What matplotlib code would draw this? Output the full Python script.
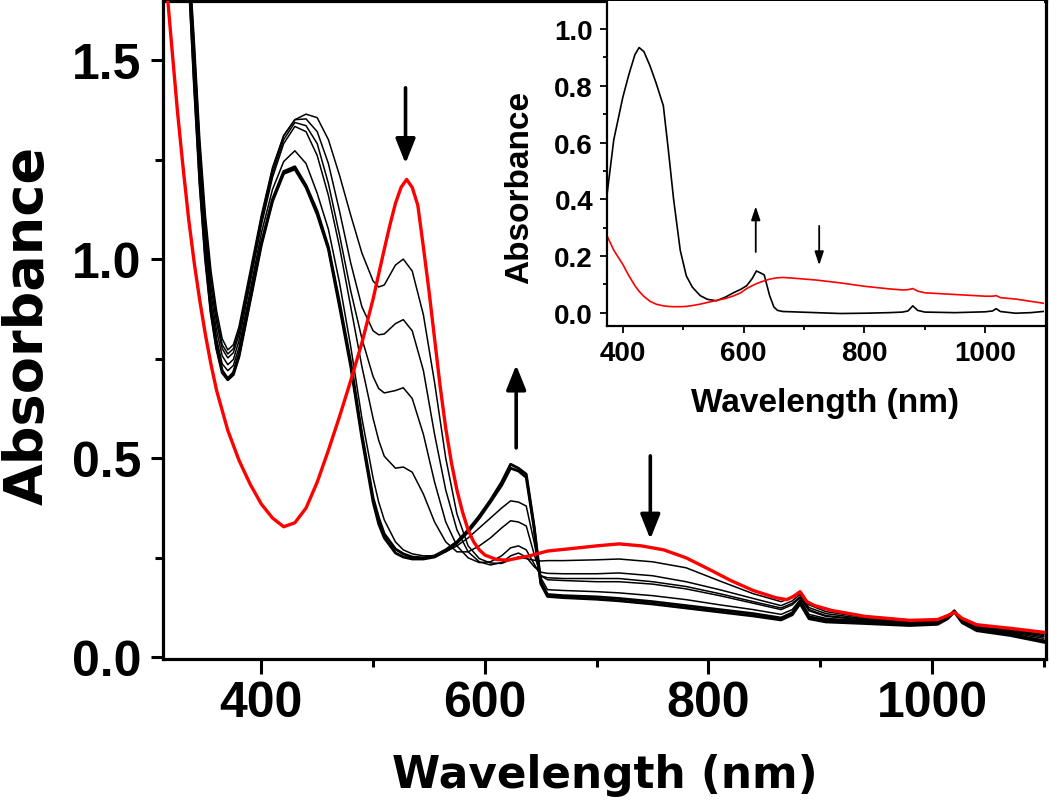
import matplotlib
matplotlib.use("Agg")
import matplotlib.pyplot as plt
from matplotlib.ticker import MultipleLocator

plt.rcParams["font.family"] = ["Liberation Sans", "DejaVu Sans"]
plt.rcParams["font.weight"] = "bold"

# main panel: wavelength grid (nm) and absorbance of each black spectrum
wl = [312, 320, 330, 340, 345, 350, 355, 360, 365, 370, 375, 380, 390, 400, 410,
      420, 430, 440, 450, 460, 470, 480, 490, 500, 505, 510, 520, 527, 535, 545,
      555, 565, 575, 585, 595, 605, 615, 623, 630, 637, 644, 650, 656, 670, 700,
      720, 750, 780, 810, 840, 865, 875, 882, 890, 905, 940, 980, 1005, 1014, 1020,
      1027, 1040, 1070, 1100]

b1 = [3.0, 2.6, 2.0, 1.55, 1.30, 1.11, 0.97, 0.87, 0.80, 0.772, 0.785, 0.83, 0.97, 1.11, 1.23,
      1.31, 1.35, 1.364, 1.355, 1.30, 1.21, 1.11, 1.015, 0.945, 0.93, 0.935, 0.985, 1.0, 0.97, 0.86,
      0.69, 0.50, 0.36, 0.28, 0.248, 0.237, 0.236, 0.245, 0.252, 0.248, 0.244, 0.242, 0.243, 0.243, 0.245,
      0.247, 0.24, 0.225, 0.192, 0.16, 0.14, 0.15, 0.162, 0.132, 0.115, 0.100, 0.092, 0.095, 0.105, 0.115,
      0.098, 0.08, 0.07, 0.062]

b2 = [3.0, 2.6, 2.0, 1.53, 1.28, 1.09, 0.95, 0.855, 0.785, 0.762, 0.775, 0.82, 0.96, 1.105, 1.225,
      1.31, 1.35, 1.352, 1.32, 1.24, 1.12, 0.99, 0.88, 0.82, 0.81, 0.812, 0.838, 0.848, 0.82, 0.72,
      0.56, 0.42, 0.32, 0.265, 0.24, 0.232, 0.238, 0.255, 0.262, 0.252, 0.228, 0.214, 0.211, 0.21, 0.21,
      0.212, 0.205, 0.19, 0.17, 0.148, 0.13, 0.142, 0.158, 0.125, 0.11, 0.097, 0.09, 0.093, 0.103, 0.115,
      0.096, 0.078, 0.068, 0.058]

b3 = [3.0, 2.6, 2.0, 1.51, 1.26, 1.07, 0.93, 0.84, 0.775, 0.752, 0.765, 0.81, 0.95, 1.095, 1.215,
      1.30, 1.343, 1.335, 1.29, 1.19, 1.06, 0.92, 0.80, 0.705, 0.675, 0.664, 0.67, 0.677, 0.65, 0.56,
      0.44, 0.34, 0.28, 0.25, 0.238, 0.24, 0.255, 0.275, 0.28, 0.27, 0.235, 0.205, 0.2, 0.198, 0.198,
      0.198, 0.19, 0.178, 0.16, 0.14, 0.124, 0.136, 0.152, 0.12, 0.105, 0.095, 0.088, 0.091, 0.102, 0.115,
      0.095, 0.076, 0.066, 0.055]

b4 = [3.0, 2.6, 2.0, 1.49, 1.24, 1.05, 0.91, 0.82, 0.757, 0.735, 0.748, 0.795, 0.94, 1.085, 1.205,
      1.29, 1.333, 1.32, 1.26, 1.16, 1.03, 0.88, 0.73, 0.60, 0.545, 0.505, 0.475, 0.478, 0.465, 0.41,
      0.34, 0.29, 0.265, 0.265, 0.28, 0.30, 0.325, 0.343, 0.34, 0.33, 0.26, 0.205, 0.195, 0.193, 0.19,
      0.19, 0.184, 0.172, 0.155, 0.136, 0.12, 0.132, 0.15, 0.117, 0.103, 0.094, 0.087, 0.09, 0.102, 0.116,
      0.094, 0.075, 0.064, 0.052]

b5 = [3.0, 2.6, 2.0, 1.47, 1.22, 1.03, 0.89, 0.80, 0.737, 0.72, 0.733, 0.778, 0.92, 1.065, 1.175,
      1.245, 1.272, 1.24, 1.165, 1.075, 0.94, 0.78, 0.60, 0.45, 0.39, 0.345, 0.29, 0.27, 0.26, 0.255,
      0.255, 0.265, 0.28, 0.30, 0.325, 0.35, 0.375, 0.393, 0.39, 0.38, 0.29, 0.2, 0.17, 0.168, 0.165,
      0.162, 0.155, 0.145, 0.132, 0.12, 0.108, 0.12, 0.145, 0.108, 0.098, 0.092, 0.086, 0.089, 0.103, 0.118,
      0.093, 0.073, 0.062, 0.048]

b6 = [3.0, 2.6, 2.0, 1.45, 1.20, 1.01, 0.87, 0.78, 0.72, 0.70, 0.715, 0.76, 0.90, 1.04, 1.15,
      1.22, 1.232, 1.185, 1.12, 1.03, 0.89, 0.74, 0.56, 0.40, 0.35, 0.31, 0.272, 0.26, 0.252, 0.25,
      0.255, 0.27, 0.29, 0.32, 0.355, 0.395, 0.44, 0.485, 0.475, 0.46, 0.33, 0.19, 0.158, 0.155, 0.152,
      0.148, 0.14, 0.13, 0.12, 0.11, 0.099, 0.112, 0.14, 0.102, 0.094, 0.089, 0.084, 0.087, 0.1, 0.117,
      0.09, 0.07, 0.058, 0.042]

b7 = [3.0, 2.6, 2.0, 1.44, 1.19, 1.0, 0.865, 0.775, 0.715, 0.697, 0.71, 0.755, 0.895, 1.035, 1.145,
      1.215, 1.226, 1.18, 1.112, 1.025, 0.88, 0.73, 0.55, 0.39, 0.335, 0.30, 0.262, 0.252, 0.247, 0.247,
      0.252, 0.267, 0.287, 0.315, 0.35, 0.39, 0.432, 0.475, 0.468, 0.452, 0.325, 0.185, 0.153, 0.15, 0.146,
      0.142, 0.134, 0.124, 0.114, 0.104, 0.094, 0.107, 0.135, 0.097, 0.089, 0.085, 0.08, 0.083, 0.097, 0.114,
      0.087, 0.067, 0.055, 0.038]

# red (starting) spectrum has its own, finer grid
wl_red = [312, 316, 320, 325, 330, 335, 340, 345, 350, 355, 360, 370, 380, 390, 400,
          410, 420, 430, 440, 450, 460, 470, 480, 490, 500, 510, 515, 520, 525, 530,
          535, 540, 545, 550, 555, 560, 565, 570, 575, 580, 585, 590, 595, 600, 610,
          620, 640, 656, 680, 700, 720, 740, 760, 780, 800, 820, 840, 860, 870, 876,
          882, 888, 895, 910, 940, 980, 1005, 1014, 1020, 1027, 1040, 1070, 1100]

red = [1.80, 1.66, 1.53, 1.37, 1.23, 1.10, 0.99, 0.895, 0.81, 0.735, 0.67, 0.57, 0.495, 0.435, 0.385,
       0.35, 0.328, 0.338, 0.375, 0.44, 0.52, 0.605, 0.695, 0.79, 0.90, 1.025, 1.085, 1.14, 1.18, 1.2,
       1.18, 1.135, 1.03, 0.92, 0.80, 0.68, 0.575, 0.49, 0.42, 0.365, 0.32, 0.29, 0.27, 0.257, 0.246,
       0.244, 0.255, 0.267, 0.274, 0.28, 0.285, 0.28, 0.27, 0.25, 0.222, 0.193, 0.168, 0.15, 0.145, 0.153,
       0.165, 0.14, 0.13, 0.118, 0.103, 0.093, 0.095, 0.105, 0.113, 0.098, 0.082, 0.073, 0.063]

# inset: two spectra
wl_in = [374, 385, 400, 410, 420, 427, 435, 445, 455, 467, 475, 484, 495, 505, 515, 528,
         540, 555, 570, 583, 595, 605, 614, 621, 628, 634, 643, 650, 656, 665, 680, 720,
         760, 800, 840, 863, 872, 880, 888, 900, 950, 1000, 1012, 1018, 1025, 1050, 1075, 1100]

inset_black = [0.42, 0.61, 0.76, 0.84, 0.91, 0.935, 0.92, 0.87, 0.81, 0.73, 0.58, 0.40, 0.22, 0.13, 0.09, 0.06,
               0.047, 0.042, 0.055, 0.07, 0.082, 0.095, 0.12, 0.147, 0.14, 0.133, 0.06, 0.02, 0.008, 0.004, 0.003, 0.0,
               -0.003, -0.002, 0.0, 0.002, 0.006, 0.024, 0.008, 0.002, 0.0, 0.003, 0.006, 0.014, 0.004, -0.002, 0.0, 0.005]

inset_red = [0.27, 0.22, 0.17, 0.13, 0.095, 0.075, 0.057, 0.04, 0.03, 0.024, 0.022, 0.021, 0.021, 0.022, 0.025, 0.03,
             0.036, 0.043, 0.05, 0.059, 0.07, 0.085, 0.095, 0.102, 0.108, 0.112, 0.118, 0.121, 0.123, 0.124, 0.122, 0.115,
             0.105, 0.093, 0.084, 0.08, 0.081, 0.085, 0.076, 0.07, 0.064, 0.058, 0.058, 0.06, 0.053, 0.048, 0.04, 0.032]

fig = plt.figure(figsize=(10.5, 8.03), dpi=100)
ax = fig.add_axes([0.1552, 0.1781, 0.841, 0.8194])

for y in [b1, b2, b3, b4, b5]:
    ax.plot(wl, y, color="black", lw=1.1)
for y in [b6, b7]:
    ax.plot(wl, y, color="black", lw=2.0)
ax.plot(wl_red, red, color="#ff0000", lw=2.4, zorder=5)

ax.set_xlim(312, 1102)
ax.set_ylim(-0.004, 1.648)
ax.xaxis.set_major_locator(MultipleLocator(200))
ax.xaxis.set_minor_locator(MultipleLocator(100))
ax.yaxis.set_major_locator(MultipleLocator(0.5))
ax.yaxis.set_minor_locator(MultipleLocator(0.25))
for s in ax.spines.values():
    s.set_linewidth(2.3)
ax.tick_params(axis="both", which="both", direction="out", width=2.2, top=False, right=False)
ax.tick_params(axis="x", which="major", length=11, pad=4, labelsize=36)
ax.tick_params(axis="x", which="minor", length=6)
ax.tick_params(axis="y", which="major", length=8.5, pad=7, labelsize=36)
ax.tick_params(axis="y", which="minor", length=6)

ax.set_xlabel("Wavelength (nm)", fontsize=31.5, fontweight="bold", family="DejaVu Sans", va="center")
ax.set_ylabel("Absorbance", fontsize=39, fontweight="bold", family="DejaVu Sans", va="center")
ax.xaxis.set_label_coords(0.5, -0.175)
ax.yaxis.set_label_coords(-0.153, 0.509)

big = dict(arrowstyle="-|>,head_length=1.0,head_width=0.4", color="black", lw=2.6,
           shrinkA=0, shrinkB=0, mutation_scale=15)
ax.annotate("", xy=(529, 1.24), xytext=(529, 1.43), arrowprops=big)
ax.annotate("", xy=(628, 0.734), xytext=(628, 0.526), arrowprops=big)
ax.annotate("", xy=(748, 0.297), xytext=(748, 0.506), arrowprops=big)

# inset
ins = fig.add_axes([0.578, 0.5928, 0.4162, 0.4047])
ins.plot(wl_in, inset_black, color="black", lw=1.2)
ins.plot(wl_in, inset_red, color="#ff0000", lw=1.2)
ins.set_xlim(373.6, 1097)
ins.set_ylim(-0.047, 1.099)
ins.xaxis.set_major_locator(MultipleLocator(200))
ins.xaxis.set_minor_locator(MultipleLocator(100))
ins.yaxis.set_major_locator(MultipleLocator(0.2))
ins.yaxis.set_minor_locator(MultipleLocator(0.1))
for side in ["left", "bottom"]:
    ins.spines[side].set_linewidth(1.6)
for side in ["top", "right"]:
    ins.spines[side].set_visible(False)
ins.tick_params(axis="both", which="both", direction="out", width=1.3, top=False, right=False)
ins.tick_params(axis="both", which="major", length=5, pad=5, labelsize=20)
ins.tick_params(axis="both", which="minor", length=3)
ins.set_xlabel("Wavelength (nm)", fontsize=24, fontweight="bold", va="center")
ins.set_ylabel("Absorbance", fontsize=24, fontweight="bold", va="center")
ins.xaxis.set_label_coords(0.5, -0.234)
ins.yaxis.set_label_coords(-0.199, 0.429)

small = dict(arrowstyle="-|>,head_length=0.9,head_width=0.3", color="black", lw=1.3,
             shrinkA=0, shrinkB=0, mutation_scale=9)
ins.annotate("", xy=(620, 0.375), xytext=(620, 0.214), arrowprops=small)
ins.annotate("", xy=(725, 0.167), xytext=(725, 0.306), arrowprops=small)

fig.savefig("out.png", dpi=100)
